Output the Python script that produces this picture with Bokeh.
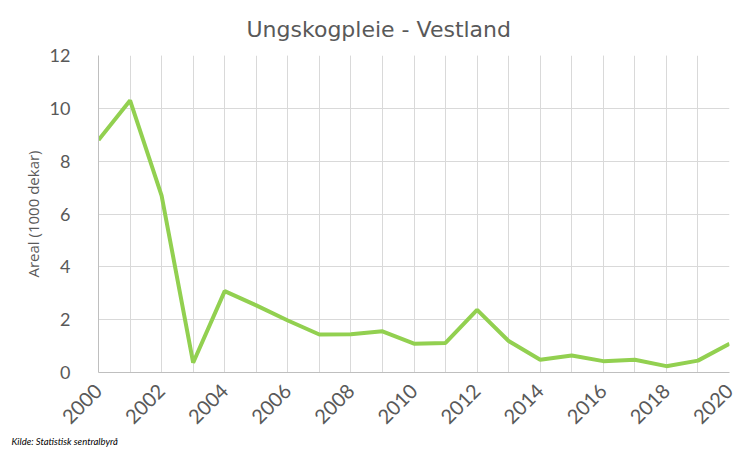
from bokeh.plotting import figure
from bokeh.models import Title, SingleIntervalTicker, Range1d
from bokeh.embed import file_html
from bokeh.resources import INLINE
import math

years = list(range(2000, 2021))
areal = [8.8, 10.3, 6.7, 0.37, 3.08, 2.54, 1.97, 1.44, 1.45, 1.56, 1.09, 1.12,
         2.37, 1.19, 0.48, 0.64, 0.43, 0.48, 0.24, 0.45, 1.09]

title_text = "Ungskogpleie - Vestland"
y_label = "Areal (1000 dekar)"
source_text = "Kilde: Statistisk sentralbyrå"

FONT = "Lato"
TXT = "#595959"
GRID = "#D9D9D9"

p = figure(width=742, height=451, output_backend="svg", toolbar_location=None,
           x_range=Range1d(2000, 2020), y_range=Range1d(0, 12),
           min_border_left=98, min_border_right=13, min_border_top=55, min_border_bottom=79)
p.outline_line_color = None
p.background_fill_color = "white"
p.border_fill_color = "white"

p.line(years, areal, line_color="#92D050", line_width=4)

# axes
p.xaxis.ticker = SingleIntervalTicker(interval=2, num_minor_ticks=2)
p.yaxis.ticker = SingleIntervalTicker(interval=2, num_minor_ticks=0)
for ax in (p.xaxis[0], p.yaxis[0]):
    ax.axis_line_color = "#BFBFBF"
    ax.major_tick_line_color = None
    ax.minor_tick_line_color = None
    ax.major_label_text_color = TXT
    ax.major_label_text_font = FONT
ax = p.yaxis[0]
ax.major_label_text_font_size = "18px"
ax.major_label_standoff = 22
ax.axis_label = y_label
ax.axis_label_text_font = "Open Sans"
ax.axis_label_text_font_size = "15px"
ax.axis_label_text_font_style = "normal"
ax.axis_label_text_color = TXT
ax.axis_label_standoff = 4
ax = p.xaxis[0]
ax.major_label_text_font_size = "20px"
ax.major_label_orientation = math.pi / 4
ax.major_label_standoff = 9

p.xgrid.grid_line_color = GRID
p.xgrid.minor_grid_line_color = GRID
p.ygrid.grid_line_color = GRID

# title
p.title = Title(text=title_text, align="left", offset=148, standoff=27,
                text_font="DejaVu Sans", text_font_size="22px", text_font_style="normal",
                text_color=TXT)
# source note
p.add_layout(Title(text=source_text, align="left", offset=-87, standoff=0,
                   text_font=FONT, text_font_size="9.5px", text_font_style="italic",
                   text_color="#000000"), "below")

open("out.html", "w").write(file_html(p, INLINE))
